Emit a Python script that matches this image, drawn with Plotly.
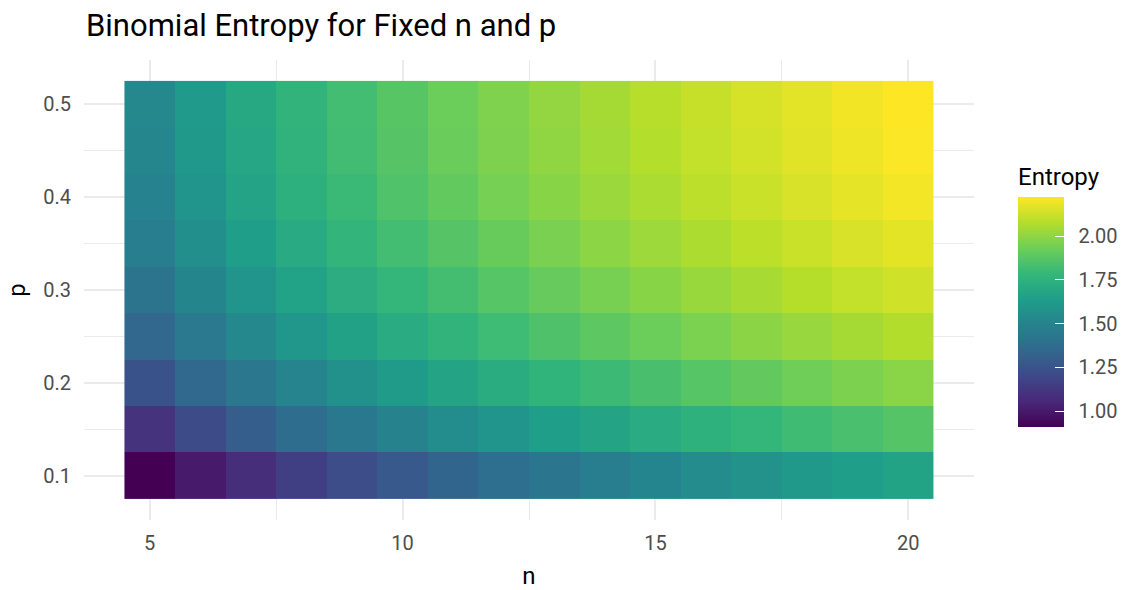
import plotly.graph_objects as go

# ---- data ----
n_values = list(range(5, 21))
p_values = [0.10, 0.15, 0.20, 0.25, 0.30, 0.35, 0.40, 0.45, 0.50]

entropy_p010 = [0.910, 1.002, 1.083, 1.157, 1.221, 1.278, 1.332, 1.382, 1.427, 1.469, 1.508, 1.544, 1.577, 1.609, 1.639, 1.667]
entropy_p015 = [1.106, 1.212, 1.299, 1.374, 1.439, 1.497, 1.548, 1.595, 1.638, 1.677, 1.714, 1.748, 1.780, 1.810, 1.838, 1.865]
entropy_p020 = [1.243, 1.346, 1.431, 1.504, 1.567, 1.623, 1.674, 1.720, 1.762, 1.801, 1.837, 1.871, 1.902, 1.932, 1.960, 1.986]
entropy_p025 = [1.342, 1.442, 1.525, 1.596, 1.659, 1.714, 1.763, 1.809, 1.850, 1.888, 1.924, 1.957, 1.988, 2.017, 2.045, 2.071]
entropy_p030 = [1.414, 1.511, 1.592, 1.662, 1.723, 1.777, 1.826, 1.871, 1.912, 1.950, 1.985, 2.018, 2.048, 2.078, 2.105, 2.131]
entropy_p035 = [1.463, 1.559, 1.639, 1.707, 1.768, 1.822, 1.870, 1.914, 1.955, 1.993, 2.028, 2.060, 2.091, 2.120, 2.147, 2.173]
entropy_p040 = [1.496, 1.591, 1.671, 1.739, 1.799, 1.853, 1.901, 1.945, 1.985, 2.022, 2.057, 2.090, 2.120, 2.149, 2.176, 2.202]
entropy_p045 = [1.517, 1.611, 1.689, 1.757, 1.817, 1.870, 1.918, 1.962, 2.002, 2.039, 2.074, 2.106, 2.136, 2.165, 2.192, 2.218]
entropy_p050 = [1.524, 1.617, 1.695, 1.763, 1.822, 1.875, 1.923, 1.967, 2.007, 2.044, 2.079, 2.111, 2.142, 2.171, 2.198, 2.223]

z = [entropy_p010, entropy_p015, entropy_p020, entropy_p025, entropy_p030,
     entropy_p035, entropy_p040, entropy_p045, entropy_p050]

x_ticks = [5, 10, 15, 20]
y_ticks = [0.1, 0.2, 0.3, 0.4, 0.5]
cb_ticks = [1.00, 1.25, 1.50, 1.75, 2.00]

# ---- layout geometry (pixels) ----
W, H = 1122, 590
L, R, T, B = 84, 148, 60, 70
pw, ph = W - L - R, H - T - B

grid = "#EBEBEB"
tick_col = "#4D4D4D"
nb = "\u00a0"

fig = go.Figure(go.Heatmap(
    x=n_values, y=p_values, z=z,
    colorscale="Viridis",
    colorbar=dict(
        title=dict(text="Entropy", side="top", font=dict(size=24, color="black")),
        thickness=46, thicknessmode="pixels",
        len=263, lenmode="pixels",
        x=(1018 - L) / pw, xanchor="left", xpad=0,
        y=(T + ph - 164) / ph, yanchor="top", ypad=0,
        outlinewidth=0,
        tickvals=cb_ticks, ticktext=[nb * 2 + f"{v:.2f}" for v in cb_ticks],
        ticks="inside", ticklen=9, tickcolor="white", tickwidth=1,
        tickfont=dict(size=20, color=tick_col),
    ),
    hovertemplate="n=%{x}<br>p=%{y}<br>Entropy=%{z}<extra></extra>",
))

fig.update_layout(
    template="none",
    width=W, height=H,
    margin=dict(l=L, r=R, t=T, b=B, pad=0, autoexpand=False),
    paper_bgcolor="white", plot_bgcolor="white",
    font=dict(family="Roboto, 'Noto Sans', sans-serif", color="black"),
    title=dict(text="Binomial Entropy for Fixed n and p",
               x=86 / W, xref="container", xanchor="left",
               y=1 - 25 / H, yref="container", yanchor="middle",
               font=dict(size=31, color="black")),
    xaxis=dict(
        automargin=False,
        range=[3.7, 21.3], tickvals=x_ticks, ticktext=[str(v) for v in x_ticks],
        showgrid=True, gridcolor=grid, gridwidth=2,
        zeroline=False, showline=False, ticks="",
        tickfont=dict(size=20, color=tick_col), ticklabelstandoff=9,
        title=dict(text="n", font=dict(size=24, color="black"), standoff=15),
        minor=dict(tickvals=[7.5, 12.5, 17.5], showgrid=True, gridcolor=grid, gridwidth=1.2, ticks=""),
    ),
    yaxis=dict(
        automargin=False,
        range=[0.0525, 0.5475], tickvals=y_ticks, ticktext=[f"{v:.1f}" for v in y_ticks],
        showgrid=True, gridcolor=grid, gridwidth=2,
        zeroline=False, showline=False, ticks="",
        tickfont=dict(size=20, color=tick_col), ticklabelstandoff=12,
        title=dict(text="p", font=dict(size=24, color="black"), standoff=10),
        minor=dict(tickvals=[0.15, 0.25, 0.35, 0.45], showgrid=True, gridcolor=grid, gridwidth=1.2, ticks=""),
    ),
)

fig.write_html("out.html", config={"displayModeBar": False},
               post_script="document.body.style.margin='0';")
